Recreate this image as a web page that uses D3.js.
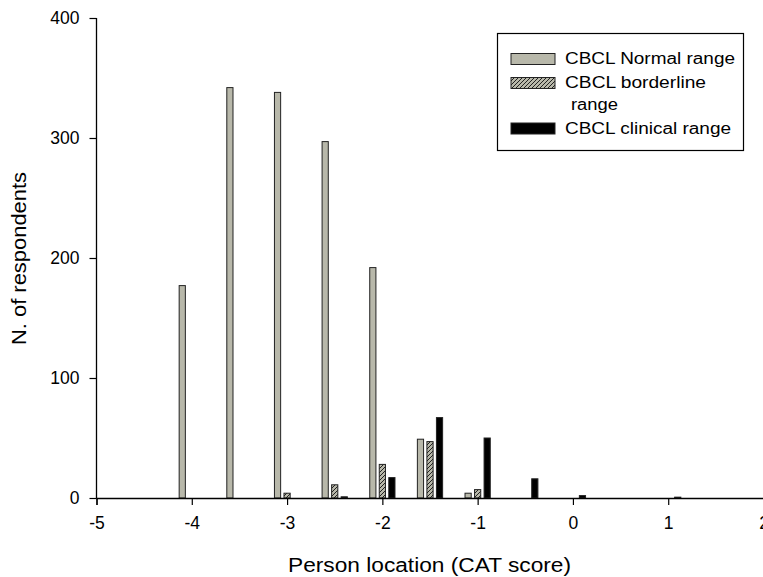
<!DOCTYPE html>
<html><head><meta charset="utf-8">
<script src="https://cdn.jsdelivr.net/npm/d3@7"></script>
<style>body{margin:0;background:#fff}svg{display:block}text{font-family:"Liberation Sans",Arial,sans-serif}</style>
</head><body>
<svg id="c" width="763" height="577"></svg>
<script>
const normalX = [-4.1, -3.6, -3.1, -2.6, -2.1, -1.6, -1.1];
const normalY = [177, 342, 338, 297, 192, 49, 4];
const borderX = [-3.0, -2.5, -2.0, -1.5, -1.0];
const borderY = [4, 11, 28, 47, 7];
const clinX = [-2.4, -1.9, -1.4, -0.9, -0.4, 0.1, 1.1];
const clinY = [1, 17, 67, 50, 16, 2, 0.7];
const xTicks = [-5, -4, -3, -2, -1, 0, 1, 2];
const yTicks = [0, 100, 200, 300, 400];
const legendLabels = [["CBCL Normal range"], ["CBCL borderline", "range"], ["CBCL clinical range"]];

const svg = d3.select("#c");
const x = d3.scaleLinear().domain([-5, 2]).range([96.5, 763.5]);
const y = d3.scaleLinear().domain([0, 400]).range([498, 18]);
const defs = svg.append("defs");
const pat = defs.append("pattern").attr("id", "hatch").attr("patternUnits", "userSpaceOnUse")
  .attr("width", 4).attr("height", 4);
pat.append("rect").attr("width", 4).attr("height", 4).attr("fill", "#b8b8aa");
pat.append("path").attr("d", "M-1,1 l2,-2 M0,4 l4,-4 M3,5 l2,-2").attr("stroke", "#222").attr("stroke-width", 1);

const bw = x(0.065) - x(0);
const series = [
  {xs: normalX, ys: normalY, fill: "#b8b8aa"},
  {xs: borderX, ys: borderY, fill: "url(#hatch)"},
  {xs: clinX, ys: clinY, fill: "#000"}
];
series.forEach(s => {
  svg.append("g").selectAll("rect").data(s.xs.map((v, i) => [v, s.ys[i]])).join("rect")
    .attr("x", d => x(d[0]) - bw / 2).attr("width", bw)
    .attr("y", d => y(d[1])).attr("height", d => y(0) - y(d[1]))
    .attr("fill", s.fill).attr("stroke", "#222").attr("stroke-width", 1);
});

const xa = svg.append("g").attr("transform", "translate(0,498)")
  .call(d3.axisBottom(x).tickValues(xTicks).tickSize(7).tickPadding(12).tickFormat(d3.format("d")));
const ya = svg.append("g").attr("transform", "translate(96.5,0)")
  .call(d3.axisLeft(y).tickValues(yTicks).tickSize(7).tickPadding(10));
[xa, ya].forEach(a => {
  a.select(".domain").attr("stroke", "#000").attr("stroke-width", 1.3);
  a.selectAll(".tick line").attr("stroke", "#000").attr("stroke-width", 1.2);
  a.selectAll("text").attr("fill", "#000").style("font-size", "17.5px");
});
xa.selectAll("text").text(d => d < 0 ? "-" + Math.abs(d) : d);
ya.select(".domain").attr("d", "M0,18V498");

svg.append("text").attr("x", 288).attr("y", 572)
  .attr("textLength", 283).attr("lengthAdjust", "spacingAndGlyphs")
  .style("font-size", "20px").text("Person location (CAT score)");
svg.append("text").attr("transform", "translate(26,345) rotate(-90)")
  .attr("textLength", 173).attr("lengthAdjust", "spacingAndGlyphs")
  .style("font-size", "20px").text("N. of respondents");

const lg = svg.append("g");
lg.append("rect").attr("x", 497.5).attr("y", 33.5).attr("width", 246).attr("height", 117)
  .attr("fill", "#fff").attr("stroke", "#000").attr("stroke-width", 1.2);
const rows = [53.5, 77.5, 123];
const lens = [[170], [141, 47], [166]];
series.forEach((s, i) => {
  lg.append("rect").attr("x", 511).attr("y", rows[i]).attr("width", 44).attr("height", 11)
    .attr("fill", s.fill).attr("stroke", "#222").attr("stroke-width", 1);
  legendLabels[i].forEach((t, j) => {
    lg.append("text").attr("x", 565 + (j ? 6 : 0)).attr("y", rows[i] + 10.5 + j * 21.5)
      .attr("textLength", lens[i][j]).attr("lengthAdjust", "spacingAndGlyphs")
      .style("font-size", "16px").text(t);
  });
});
</script>
</body></html>
